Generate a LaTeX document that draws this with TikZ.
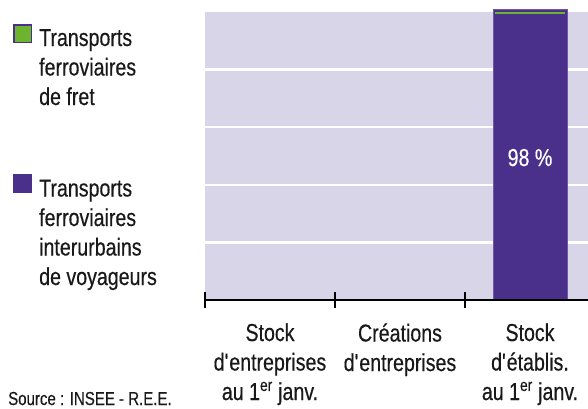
\documentclass[tikz,border=0pt]{standalone}
\usepackage{fontspec}
\setmainfont{Liberation Sans}[FakeStretch=0.8,FakeBold=0.4]
\usepackage{tikz}
\usepackage{xcolor}

\tikzset{
  txt/.style={inner sep=0pt,text=black!90,font=\fontsize{24.5}{29.5}\selectfont},
  legtext/.style={txt,anchor=base west,align=left},
  cattext/.style={txt,anchor=base,align=center},
  legbox/.style={draw=voyageurs,line width=1.5pt,minimum size=17.5pt,inner sep=0pt}
}

\begin{document}
\begin{tikzpicture}[x=1pt,y=1pt]
% Define chart colours
\definecolor{fond}{RGB}{216,213,233}
\definecolor{voyageurs}{RGB}{74,47,139}
\definecolor{fret}{RGB}{108,180,46}
\useasboundingbox (0,0) rectangle (588,408);

% Draw plot background and grid
\fill[fond] (205,108) rectangle (588,396);
\draw[white,line width=2.5pt] (205,165.6) -- (588,165.6);
\draw[white,line width=2.5pt] (205,223.2) -- (588,223.2);
\draw[white,line width=2.5pt] (205,280.8) -- (588,280.8);
\draw[white,line width=2.5pt] (205,338.4) -- (588,338.4);

% Draw stacked bar
\draw[voyageurs!80!white,line width=0.8pt,fill=voyageurs] (493,108) rectangle (567,399);
\draw[fret,line width=2.5pt] (495,395) -- (565,395);
\node[txt,text=white,anchor=base] (pct) at (530,242) {98 \%};

% Draw axis
\draw[line width=2pt] (205,108) -- (588,108);
\draw[line width=2pt] (205,100) -- (205,116);
\draw[line width=2pt] (335,100) -- (335,116);
\draw[line width=2pt] (465,100) -- (465,116);

% Add labels (base = last line)
\node[cattext] (stockent) at (270,8) {Stock\\d\textquotesingle entreprises\\au 1\textsuperscript{er} janv.};
\node[cattext] (creations) at (400,37) {Créations\\d\textquotesingle entreprises};
\node[cattext] (stocketab) at (530,8) {Stock\\d\textquotesingle établis.\\au 1\textsuperscript{er} janv.};

% Add legend
\node[legbox,fill=fret] (boxfret) at (22.5,374) {};
\node[legtext] (legfret) at (39,303) {Transports\\ferroviaires\\de fret};
\node[legbox,fill=voyageurs] (boxvoy) at (22.5,225) {};
\node[legtext] (legvoy) at (39,123) {Transports\\ferroviaires\\interurbains\\de voyageurs};

% Add source
\node[txt,anchor=base west,font=\fontsize{18.8}{22}\selectfont] (source) at (8,3) {Source : INSEE - R.E.E.};
\end{tikzpicture}
\end{document}
